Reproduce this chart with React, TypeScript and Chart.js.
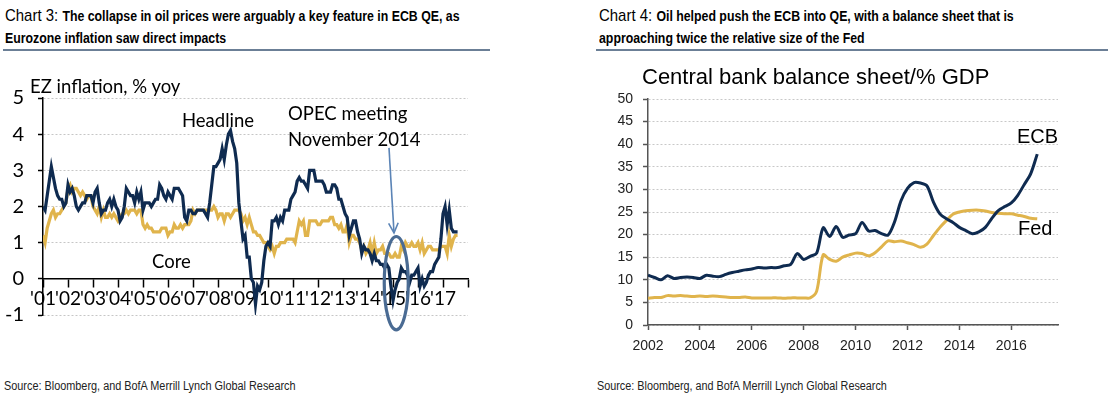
import React, { useEffect, useRef } from "react";
import { Chart, registerables } from "chart.js";

Chart.register(...registerables);

// ---------- Chart 3: EZ inflation (monthly, Jan 2001 - Aug 2017) ----------
const inflationStartYear = 2001;
const headline = [
  2.0, 1.9, 2.3, 2.7, 3.1, 2.8, 2.5, 2.3, 2.2, 2.2, 2.0, 2.1,
  2.6, 2.4, 2.5, 2.3, 2.0, 1.9, 2.0, 2.1, 2.1, 2.3, 2.3, 2.3,
  2.1, 2.4, 2.5, 2.1, 1.8, 1.9, 1.9, 2.1, 2.2, 2.0, 2.2, 2.0,
  1.9, 1.6, 1.7, 2.0, 2.5, 2.4, 2.3, 2.3, 2.1, 2.4, 2.2, 2.4,
  1.9, 2.1, 2.1, 2.1, 2.0, 2.1, 2.2, 2.2, 2.6, 2.5, 2.3, 2.2,
  2.4, 2.3, 2.2, 2.5, 2.5, 2.5, 2.4, 2.3, 1.7, 1.6, 1.9, 1.9,
  1.8, 1.8, 1.9, 1.9, 1.9, 1.9, 1.8, 1.7, 2.1, 2.6, 3.1, 3.1,
  3.2, 3.3, 3.6, 3.3, 3.7, 4.0, 4.1, 3.8, 3.6, 3.2, 2.1, 1.6,
  1.1, 1.2, 0.6, 0.6, 0.0, -0.1, -0.7, -0.2, -0.3, -0.1, 0.5, 0.9,
  1.0, 0.9, 1.6, 1.6, 1.7, 1.5, 1.7, 1.6, 1.9, 1.9, 1.9, 2.2,
  2.3, 2.4, 2.7, 2.8, 2.7, 2.7, 2.6, 2.5, 3.0, 3.0, 3.0, 2.7,
  2.7, 2.7, 2.7, 2.6, 2.4, 2.4, 2.4, 2.6, 2.6, 2.5, 2.2, 2.2,
  2.0, 1.8, 1.7, 1.2, 1.4, 1.6, 1.6, 1.3, 1.1, 0.7, 0.9, 0.8,
  0.8, 0.7, 0.5, 0.7, 0.5, 0.5, 0.4, 0.4, 0.3, 0.4, 0.3, -0.2,
  -0.6, -0.3, -0.1, 0.0, 0.3, 0.2, 0.2, 0.1, -0.1, 0.1, 0.1, 0.2,
  0.3, -0.2, 0.0, -0.2, -0.1, 0.1, 0.2, 0.2, 0.4, 0.5, 0.6, 1.1,
  1.8, 2.0, 1.5, 1.9, 1.4, 1.3, 1.3, 1.3,
];
const core = [
  1.2, 1.0, 1.4, 1.6, 1.8, 1.9, 1.7, 1.8, 1.8, 1.9, 2.0, 2.1,
  2.5, 2.6, 2.4, 2.5, 2.5, 2.4, 2.3, 2.4, 2.3, 2.2, 2.3, 2.3,
  2.0, 1.9, 1.8, 2.0, 1.7, 1.9, 1.7, 1.7, 1.8, 1.7, 1.8, 1.7,
  1.6, 1.7, 1.8, 1.8, 1.9, 1.8, 1.9, 1.9, 1.9, 1.8, 1.9, 1.9,
  1.5, 1.4, 1.5, 1.4, 1.4, 1.3, 1.3, 1.3, 1.3, 1.4, 1.4, 1.4,
  1.2, 1.3, 1.3, 1.5, 1.4, 1.4, 1.5, 1.4, 1.5, 1.5, 1.5, 1.6,
  1.9, 1.8, 1.9, 1.9, 1.9, 1.9, 1.9, 1.9, 1.9, 1.9, 2.0, 1.9,
  1.7, 1.8, 1.8, 1.6, 1.8, 1.8, 1.7, 1.8, 1.9, 1.9, 1.9, 1.8,
  1.6, 1.7, 1.5, 1.7, 1.5, 1.3, 1.3, 1.2, 1.2, 1.1, 1.0, 1.0,
  0.9, 0.8, 0.9, 0.7, 0.9, 0.9, 1.0, 1.0, 1.0, 1.1, 1.1, 1.1,
  1.1, 1.0, 1.3, 1.6, 1.5, 1.6, 1.2, 1.2, 1.6, 1.6, 1.6, 1.6,
  1.5, 1.5, 1.6, 1.6, 1.6, 1.6, 1.7, 1.7, 1.5, 1.5, 1.4, 1.5,
  1.3, 1.3, 1.5, 1.0, 1.2, 1.2, 1.1, 1.1, 1.0, 0.8, 0.9, 0.7,
  0.8, 1.0, 0.7, 1.0, 0.7, 0.8, 0.8, 0.9, 0.7, 0.7, 0.7, 0.6,
  0.6, 0.7, 0.6, 0.6, 0.9, 0.8, 1.0, 0.9, 0.9, 1.0, 0.9, 0.9,
  1.0, 0.8, 1.0, 0.7, 0.8, 0.9, 0.9, 0.8, 0.8, 0.8, 0.8, 0.9,
  0.9, 0.9, 0.7, 1.2, 0.9, 1.1, 1.2, 1.2,
];
const inflationYMin = -1;
const inflationYMax = 5;
const inflationXMin = 2001;
const inflationXMax = 2018;
// OPEC annotation (data coordinates)
const opecArrowFrom = { x: 2014.84, y: 3.62 };
const opecArrowTo = { x: 2015.04, y: 1.27 };
const opecEllipse = { x: 2015.13, y: -0.12, rx: 0.48, ry: 1.29 };

// ---------- Chart 4: central bank balance sheets (quarterly, 2002Q1 - 2017Q1) ----------
const balanceStartYear = 2002;
const ecb = [
  11.0, 10.5, 10.0, 10.9, 10.3, 10.5, 10.6, 10.5,
  10.3, 11.0, 10.8, 10.7, 11.2, 11.6, 11.9, 12.2,
  12.4, 12.7, 12.6, 12.7, 12.7, 13.1, 13.4, 15.8,
  14.5, 15.2, 15.9, 21.5, 19.6, 21.8, 19.4, 19.9,
  20.2, 22.7, 20.8, 20.9, 20.2, 19.9, 22.8, 27.5,
  30.2, 31.5, 31.4, 30.8, 27.2, 24.6, 23.5, 22.7,
  21.6, 20.9, 20.2, 20.6, 21.6, 23.6, 25.3, 26.2,
  27.0, 28.7, 31.1, 33.5, 37.8,
];
const fed = [
  5.9, 6.1, 6.1, 6.5, 6.4, 6.5, 6.4, 6.3,
  6.4, 6.3, 6.4, 6.3, 6.2, 6.1, 6.1, 6.2,
  6.0, 6.0, 6.0, 6.0, 6.0, 5.9, 6.0, 6.0,
  6.0, 6.0, 7.5, 15.5, 14.5, 14.1, 15.0, 15.5,
  15.9, 15.8, 15.3, 16.0, 17.3, 18.6, 18.4, 18.6,
  18.2, 17.8, 17.2, 17.9, 19.8, 21.6, 23.1, 24.5,
  25.0, 25.3, 25.4, 25.4, 25.2, 24.9, 24.7, 24.6,
  24.6, 24.3, 24.0, 23.6, 23.5,
];
const balanceYMin = 0;
const balanceYMax = 50;
const balanceXMin = 2002;
const balanceXMax = 2017.8;

const NAVY = "#0f2b50";
const GOLD = "#e0b44c";
const LATO = "Lato, 'Open Sans', sans-serif";
const ARIAL = "'Liberation Sans', Arial, sans-serif";

const monthly = (start: number, vals: number[]) =>
  vals.map((v, i) => ({ x: start + i / 12, y: v }));
const quarterly = (start: number, vals: number[]) =>
  vals.map((v, i) => ({ x: start + i / 4, y: v }));

const opecPlugin = {
  id: "opecAnnotation",
  afterDraw(chart: any) {
    const { ctx, scales } = chart;
    const x = scales.x;
    const y = scales.y;
    ctx.save();
    const x1 = x.getPixelForValue(opecArrowFrom.x);
    const y1 = y.getPixelForValue(opecArrowFrom.y);
    const x2 = x.getPixelForValue(opecArrowTo.x);
    const y2 = y.getPixelForValue(opecArrowTo.y);
    ctx.strokeStyle = "#5b84b6";
    ctx.lineWidth = 1.6;
    ctx.beginPath();
    ctx.moveTo(x1, y1);
    ctx.lineTo(x2, y2);
    ctx.stroke();
    const ang = Math.atan2(y2 - y1, x2 - x1);
    const hl = 11;
    ctx.beginPath();
    ctx.moveTo(x2 - hl * Math.cos(ang - 0.45), y2 - hl * Math.sin(ang - 0.45));
    ctx.lineTo(x2, y2);
    ctx.lineTo(x2 - hl * Math.cos(ang + 0.45), y2 - hl * Math.sin(ang + 0.45));
    ctx.stroke();
    const cx = x.getPixelForValue(opecEllipse.x);
    const cy = y.getPixelForValue(opecEllipse.y);
    const rx = Math.abs(x.getPixelForValue(opecEllipse.x + opecEllipse.rx) - cx);
    const ry = Math.abs(y.getPixelForValue(opecEllipse.y + opecEllipse.ry) - cy);
    ctx.strokeStyle = "#4a6b93";
    ctx.lineWidth = 3.2;
    ctx.beginPath();
    ctx.ellipse(cx, cy, rx, ry, 0, 0, Math.PI * 2);
    ctx.stroke();
    ctx.restore();
  },
};

export default function App() {
  const leftRef = useRef<HTMLCanvasElement | null>(null);
  const rightRef = useRef<HTMLCanvasElement | null>(null);

  useEffect(() => {
    if (!leftRef.current || !rightRef.current) return;
    const left = new Chart(leftRef.current, {
      type: "line",
      data: {
        datasets: [
          {
            label: "Headline",
            data: monthly(inflationStartYear, headline),
            borderColor: NAVY,
            borderWidth: 3.2,
            pointRadius: 0,
            tension: 0,
          },
          {
            label: "Core",
            data: monthly(inflationStartYear, core),
            borderColor: GOLD,
            borderWidth: 3.2,
            pointRadius: 0,
            tension: 0,
          },
        ],
      },
      options: {
        animation: false,
        responsive: false,
        devicePixelRatio: 1,
        layout: { padding: { top: 38, right: 22, bottom: 35, left: 0 } },
        plugins: { legend: { display: false }, tooltip: { enabled: false } },
        scales: {
          x: {
            type: "linear",
            position: { y: 0 } as any,
            min: inflationXMin,
            max: inflationXMax,
            grid: {
              drawOnChartArea: false,
              drawTicks: true,
              tickLength: 8,
              tickColor: "#000",
              tickWidth: 1.5,
            },
            border: { display: true, color: "#000", width: 1.5 },
            ticks: {
              stepSize: 1,
              autoSkip: false,
              maxRotation: 0,
              padding: 1,
              color: "#000",
              font: { family: LATO, size: 19 },
              callback: (v: any) =>
                v < inflationXMax ? "'" + String(v).slice(2) : "",
            },
          },
          y: {
            min: inflationYMin,
            max: inflationYMax,
            afterFit: (s: any) => {
              s.width = 43;
            },
            grid: {
              color: "#c6c6c6",
              lineWidth: 1,
              drawTicks: true,
              tickLength: 5,
              tickColor: "#000",
              tickWidth: 1.5,
            },
            border: { display: true, color: "#000", width: 1.5, dash: [2, 2] },
            ticks: {
              stepSize: 1,
              padding: 14,
              color: "#000",
              font: { family: LATO, size: 20 },
            },
          },
        },
      },
      plugins: [opecPlugin],
    });

    const right = new Chart(rightRef.current, {
      type: "line",
      data: {
        datasets: [
          {
            label: "ECB",
            data: quarterly(balanceStartYear, ecb),
            borderColor: NAVY,
            borderWidth: 3,
            pointRadius: 0,
            tension: 0.3,
          },
          {
            label: "Fed",
            data: quarterly(balanceStartYear, fed),
            borderColor: GOLD,
            borderWidth: 3,
            pointRadius: 0,
            tension: 0.3,
          },
        ],
      },
      options: {
        animation: false,
        responsive: false,
        devicePixelRatio: 1,
        layout: { padding: { top: 39, right: 50, bottom: 0, left: 0 } },
        plugins: { legend: { display: false }, tooltip: { enabled: false } },
        scales: {
          x: {
            type: "linear",
            min: balanceXMin,
            max: balanceXMax,
            afterFit: (s: any) => {
              s.height = 35;
            },
            grid: {
              drawOnChartArea: false,
              drawTicks: true,
              tickLength: 5,
              tickColor: "#555",
              tickWidth: 1.5,
            },
            border: { display: true, color: "#555", width: 1.5 },
            ticks: {
              stepSize: 2,
              includeBounds: false,
              autoSkip: false,
              maxRotation: 0,
              padding: 8,
              color: "#222",
              font: { family: ARIAL, size: 14 },
              callback: (v: any) => String(v),
            },
          },
          y: {
            min: balanceYMin,
            max: balanceYMax,
            afterFit: (s: any) => {
              s.width = 94;
            },
            grid: {
              color: "#c8c8c8",
              lineWidth: 1,
              drawTicks: true,
              tickLength: 5,
              tickColor: "#555",
              tickWidth: 1.5,
            },
            border: { display: true, color: "#555", width: 1.5, dash: [2, 2] },
            ticks: {
              stepSize: 5,
              padding: 10,
              color: "#222",
              font: { family: ARIAL, size: 14 },
            },
          },
        },
      },
    });

    return () => {
      left.destroy();
      right.destroy();
    };
  }, []);

  const abs = (l: number, t: number, extra: React.CSSProperties = {}): React.CSSProperties => ({
    position: "absolute",
    left: l,
    top: t,
    whiteSpace: "nowrap",
    ...extra,
  });

  const narrow = (scale: number): React.CSSProperties => ({
    fontFamily: ARIAL,
    color: "#000",
    transform: `scaleX(${scale})`,
    transformOrigin: "0 0",
  });

  const titleLine: React.CSSProperties = { ...narrow(0.88), lineHeight: "23px" };
  const lato: React.CSSProperties = { fontFamily: LATO, fontSize: 18.5, lineHeight: "20px", color: "#000" };

  return (
    <div style={{ position: "absolute", left: 0, top: 0, width: 1108, height: 406, background: "#fff", overflow: "hidden" }}>
      {/* Chart 3 title */}
      <div style={abs(5, 4, titleLine)}>
        <span style={{ fontSize: 17 }}>Chart 3: </span>
        <span style={{ fontSize: 14, fontWeight: "bold" }}>
          The collapse in oil prices were arguably a key feature in ECB QE, as
        </span>
      </div>
      <div style={abs(5, 27, { ...titleLine, fontSize: 14, fontWeight: "bold" })}>
        Eurozone inflation saw direct impacts
      </div>
      <div style={abs(3, 49, { width: 487, height: 2, background: "#6b7f96" })} />

      {/* Chart 4 title */}
      <div style={abs(599, 4, titleLine)}>
        <span style={{ fontSize: 17 }}>Chart 4: </span>
        <span style={{ fontSize: 14, fontWeight: "bold" }}>
          Oil helped push the ECB into QE, with a balance sheet that is
        </span>
      </div>
      <div style={abs(599, 27, { ...titleLine, fontSize: 14, fontWeight: "bold" })}>
        approaching twice the relative size of the Fed
      </div>
      <div style={abs(596, 49, { width: 512, height: 2, background: "#6b7f96" })} />

      <canvas ref={leftRef} width={490} height={290} style={abs(0, 60, { width: 490, height: 290 })} />
      <canvas ref={rightRef} width={554} height={300} style={abs(554, 60, { width: 554, height: 300 })} />

      {/* Chart 3 labels */}
      <div style={abs(30, 76, lato)}>EZ inflation, % yoy</div>
      <div style={abs(182, 110, lato)}>Headline</div>
      <div style={abs(152, 251, lato)}>Core</div>
      <div style={abs(288, 103, lato)}>OPEC meeting</div>
      <div style={abs(288, 129, lato)}>November 2014</div>

      {/* Chart 4 labels */}
      <div style={abs(642, 65, { fontFamily: ARIAL, fontSize: 22, lineHeight: "24px", color: "#000" })}>
        Central bank balance sheet/% GDP
      </div>
      <div style={abs(1017, 124, { fontFamily: ARIAL, fontSize: 20, lineHeight: "24px", color: "#000" })}>ECB</div>
      <div style={abs(1018, 216, { fontFamily: ARIAL, fontSize: 20, lineHeight: "24px", color: "#000" })}>Fed</div>

      {/* Sources */}
      <div style={abs(4, 378, { ...narrow(0.87), fontSize: 12.5, lineHeight: "16px", color: "#222" })}>
        Source: Bloomberg, and BofA Merrill Lynch Global Research
      </div>
      <div style={abs(597, 378, { ...narrow(0.865), fontSize: 12.5, lineHeight: "16px", color: "#222" })}>
        Source: Bloomberg, and BofA Merrill Lynch Global Research
      </div>
    </div>
  );
}
